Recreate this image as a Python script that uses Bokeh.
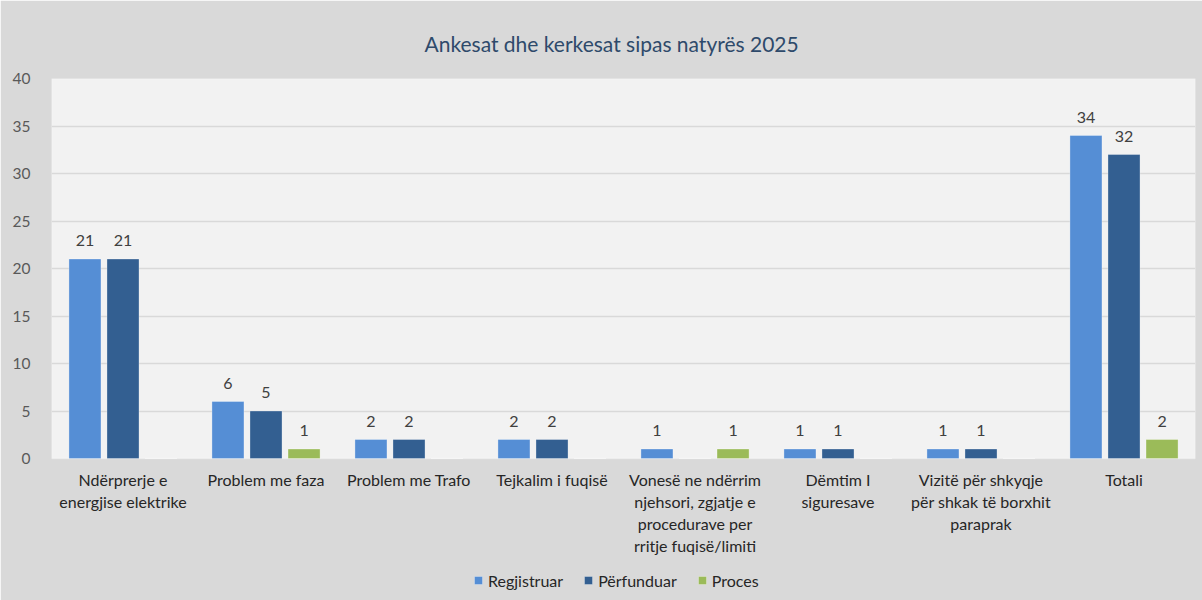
from bokeh.plotting import figure
from bokeh.models import (ColumnDataSource, FactorRange, Range1d, LabelSet, Legend,
                          LegendItem, FixedTicker, BoxAnnotation)
from bokeh.core.properties import value
from bokeh.transform import dodge
from bokeh.embed import file_html
from bokeh.resources import INLINE

categories = [
    "Ndërprerje e\nenergjise elektrike",
    "Problem me faza",
    "Problem me Trafo",
    "Tejkalim i fuqisë",
    "Vonesë ne ndërrim\nnjehsori, zgjatje e\nprocedurave per\nrritje fuqisë/limiti",
    "Dëmtim I\nsiguresave",
    "Vizitë për shkyqje\npër shkak të borxhit\nparaprak",
    "Totali",
]
regjistruar = [21, 6, 2, 2, 1, 1, 1, 34]
perfunduar = [21, 5, 2, 2, 0, 1, 1, 32]
proces = [0, 1, 0, 0, 1, 0, 0, 2]
series_names = ["Regjistruar", "Përfunduar", "Proces"]
series_colors = ["#558ED5", "#335F91", "#9BBB59"]
y_ticks = [0, 5, 10, 15, 20, 25, 30, 35, 40]
title_text = "Ankesat dhe kerkesat sipas natyrës 2025"

FONT = "Lato"
BG = "#D9D9D9"
W, H = 1202, 600
TOP, LEFT, RIGHT = 78, 51, 7
PLOT_H = 380            # pixel height of the 0..40 plot area
Y_MAX = 40
px_per_unit = PLOT_H / Y_MAX
y_start = Y_MAX - (H - TOP) / px_per_unit

p = figure(x_range=FactorRange(*categories), y_range=Range1d(y_start, Y_MAX),
           width=W, height=H, output_backend="svg", toolbar_location=None,
           min_border_left=LEFT, min_border_right=RIGHT, min_border_top=TOP,
           min_border_bottom=0, x_axis_location=None, title=title_text)
p.background_fill_color = BG
p.border_fill_color = BG
p.outline_line_color = BG
p.outline_line_width = 1.5

p.add_layout(BoxAnnotation(bottom=0, top=Y_MAX, fill_color="#F2F2F2",
                           fill_alpha=1, line_color="white", line_width=1.5,
                           level="image"))

p.title.align = "left"
p.title.offset = 373
p.title.text_font = FONT
p.title.text_font_size = "21px"
p.title.text_font_style = "normal"
p.title.text_color = "#2E4A6B"
p.title.standoff = 45

p.xgrid.grid_line_color = None
p.ygrid.grid_line_color = BG
p.ygrid.grid_line_width = 1.5
p.ygrid.ticker = FixedTicker(ticks=y_ticks[1:])
p.yaxis.ticker = FixedTicker(ticks=y_ticks)
p.yaxis.axis_line_color = None
p.yaxis.major_tick_line_color = None
p.yaxis.minor_tick_line_color = None
p.yaxis.major_label_text_font = FONT
p.yaxis.major_label_text_font_size = "15.5px"
p.yaxis.major_label_text_color = "#595959"
p.yaxis.major_label_standoff = 15

offsets = [-0.266, 0.0, 0.266]
all_vals = [regjistruar, perfunduar, proces]
items = []
for name, vals, col, off in zip(series_names, all_vals, series_colors, offsets):
    src = ColumnDataSource(dict(x=categories, y=vals))
    r = p.vbar(x=dodge("x", off, range=p.x_range), top="y", width=0.224,
               source=src, fill_color=col, line_color="white", line_alpha=0.3,
               line_width=1)
    items.append(LegendItem(label=name, renderers=[r]))
    nz = [(c, v, str(v)) for c, v in zip(categories, vals) if v != 0]
    lsrc = ColumnDataSource(dict(x=[a[0] for a in nz], y=[a[1] for a in nz],
                                 t=[a[2] for a in nz]))
    p.add_layout(LabelSet(x=dodge("x", off, range=p.x_range), y="y", text="t",
                          source=lsrc, text_align="center",
                          text_baseline="bottom", y_offset=13,
                          text_font=value(FONT), text_font_size="16px",
                          text_color="#404040"))

# category labels under the plot area
cat_src = ColumnDataSource(dict(x=categories, t=categories,
                                y=[-11 / px_per_unit] * len(categories)))
p.text(x="x", y="y", text="t", source=cat_src, text_align="center",
       text_baseline="top", text_font=value(FONT), text_font_size="16px",
       text_color="#262626", text_line_height=1.17)

legend = Legend(items=items, orientation="horizontal", location=(422, 10),
                background_fill_alpha=0, border_line_color=None,
                label_text_font=FONT, label_text_font_size="16px",
                label_text_color="#262626", glyph_width=10, glyph_height=10,
                spacing=20, padding=0, margin=0, label_standoff=5,
                label_height=20)
p.add_layout(legend, "center")

open("out.html", "w").write(file_html(p, INLINE))
